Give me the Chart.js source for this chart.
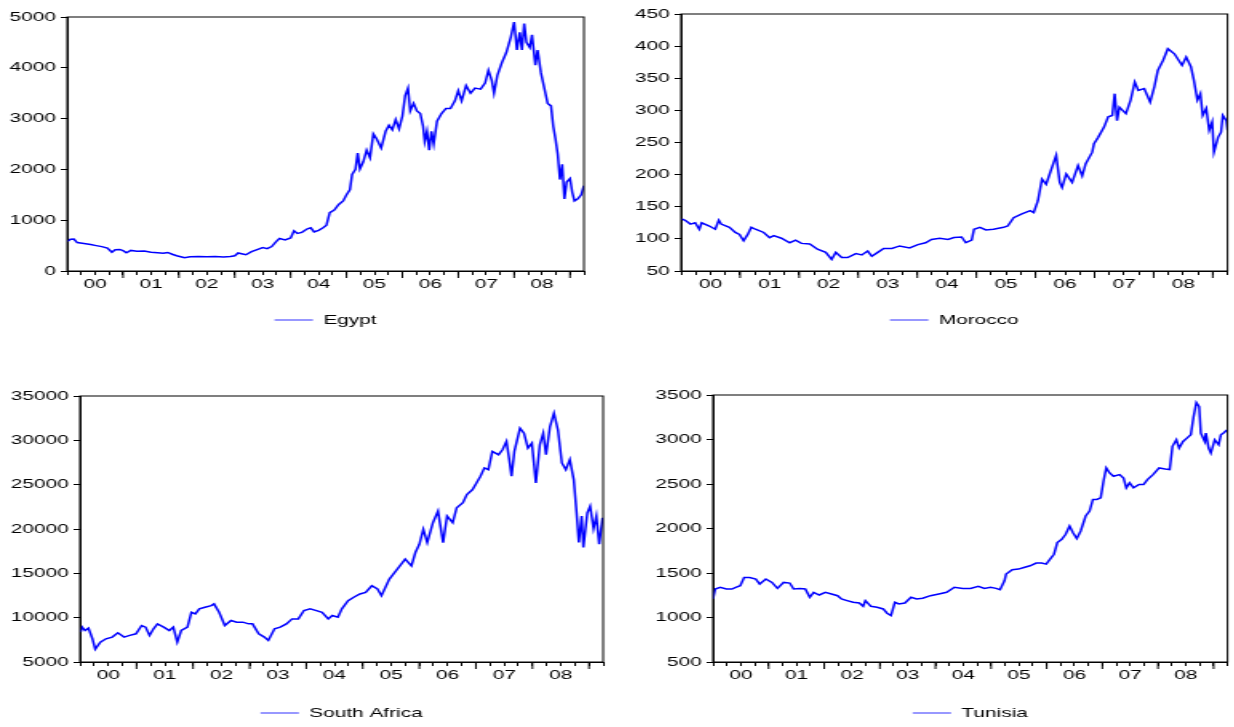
<!DOCTYPE html>
<html lang="en">
<head>
    <meta charset="utf-8">
    <title>Stock indices</title>
    <script src="https://cdn.jsdelivr.net/npm/chart.js"></script>
    <style>
        body { margin: 0; background: #fff; width: 1234px; height: 727px; overflow: hidden; position: relative; }
        .panel { position: absolute; }
        /* the original graph is stretched sideways, so each chart is drawn narrow and widened */
        .inner { position: relative; transform: scaleX(1.6); transform-origin: 0 0; }
    </style>
</head>
<body>
<div class="panel" style="left:0;top:0"><div class="inner" style="width:375px;height:340px"><canvas id="egypt"></canvas></div></div>
<div class="panel" style="left:617px;top:0"><div class="inner" style="width:385px;height:340px"><canvas id="morocco"></canvas></div></div>
<div class="panel" style="left:0;top:360px"><div class="inner" style="width:385px;height:370px"><canvas id="safrica"></canvas></div></div>
<div class="panel" style="left:617px;top:360px"><div class="inner" style="width:385px;height:370px"><canvas id="tunisia"></canvas></div></div>

<script>
    // [decimal year, index level]
    var egypt = [
        [2000.00, 580], [2000.06, 625], [2000.12, 630], [2000.18, 560], [2000.30, 540], [2000.42, 520],
        [2000.52, 500], [2000.62, 480], [2000.72, 450], [2000.80, 370], [2000.86, 420], [2000.94, 425],
        [2001.00, 400], [2001.06, 360], [2001.14, 405], [2001.25, 390], [2001.38, 395], [2001.50, 370],
        [2001.62, 360], [2001.72, 350], [2001.80, 365], [2001.88, 330], [2001.96, 300], [2002.05, 275],
        [2002.10, 260], [2002.20, 280], [2002.35, 285], [2002.50, 280], [2002.65, 285], [2002.80, 275],
        [2002.92, 285], [2003.00, 300], [2003.06, 355], [2003.14, 335], [2003.20, 320], [2003.30, 380],
        [2003.40, 420], [2003.50, 460], [2003.58, 440], [2003.66, 480], [2003.74, 580], [2003.80, 640],
        [2003.90, 610], [2004.00, 650], [2004.06, 790], [2004.12, 740], [2004.20, 760], [2004.30, 830],
        [2004.36, 850], [2004.42, 770], [2004.50, 800], [2004.58, 850], [2004.64, 900], [2004.70, 1150],
        [2004.78, 1200], [2004.86, 1310], [2004.94, 1380], [2005.00, 1500], [2005.06, 1600], [2005.10, 1900],
        [2005.16, 2000], [2005.20, 2320], [2005.24, 2010], [2005.30, 2150], [2005.36, 2380], [2005.42, 2230],
        [2005.48, 2700], [2005.54, 2600], [2005.62, 2420], [2005.70, 2750], [2005.76, 2870], [2005.82, 2780],
        [2005.88, 2980], [2005.94, 2800], [2006.00, 3050], [2006.05, 3450], [2006.10, 3600], [2006.14, 3150],
        [2006.20, 3300], [2006.26, 3150], [2006.32, 3100], [2006.37, 2850], [2006.40, 2550], [2006.44, 2750],
        [2006.48, 2380], [2006.52, 2750], [2006.56, 2500], [2006.62, 2950], [2006.70, 3100], [2006.78, 3200],
        [2006.86, 3200], [2006.94, 3350], [2007.00, 3550], [2007.06, 3350], [2007.14, 3650], [2007.22, 3500],
        [2007.30, 3600], [2007.40, 3580], [2007.48, 3700], [2007.54, 3950], [2007.60, 3750], [2007.64, 3500],
        [2007.70, 3850], [2007.78, 4100], [2007.86, 4300], [2007.94, 4600], [2008.00, 4900], [2008.05, 4350],
        [2008.10, 4700], [2008.14, 4350], [2008.18, 4870], [2008.22, 4500], [2008.28, 4400], [2008.32, 4650],
        [2008.38, 4050], [2008.42, 4350], [2008.48, 3900], [2008.54, 3600], [2008.60, 3300], [2008.66, 3250],
        [2008.70, 2850], [2008.74, 2600], [2008.78, 2300], [2008.82, 1800], [2008.86, 2100], [2008.90, 1420],
        [2008.94, 1750], [2009.00, 1820], [2009.04, 1550], [2009.08, 1380], [2009.14, 1420], [2009.20, 1500],
        [2009.25, 1680]
    ];

    var morocco = [
        [2000.01, 131], [2000.07, 129], [2000.16, 123], [2000.24, 125], [2000.31, 115], [2000.35, 125],
        [2000.48, 120], [2000.58, 115], [2000.64, 129], [2000.68, 123], [2000.82, 118], [2000.92, 110],
        [2000.99, 107], [2001.06, 97], [2001.13, 107], [2001.19, 118], [2001.26, 115], [2001.40, 110],
        [2001.50, 102], [2001.57, 105], [2001.70, 101], [2001.84, 94], [2001.94, 98], [2002.04, 93],
        [2002.18, 92], [2002.31, 84], [2002.45, 79], [2002.55, 68], [2002.62, 79], [2002.72, 71],
        [2002.82, 71], [2002.96, 77], [2003.06, 75], [2003.16, 81], [2003.23, 73], [2003.33, 79],
        [2003.43, 85], [2003.57, 85], [2003.70, 89], [2003.87, 86], [2004.01, 91], [2004.14, 94],
        [2004.24, 99], [2004.38, 101], [2004.52, 99], [2004.62, 102], [2004.75, 103], [2004.82, 94],
        [2004.92, 98], [2004.96, 115], [2005.06, 118], [2005.16, 114], [2005.29, 115], [2005.46, 118],
        [2005.53, 120], [2005.63, 133], [2005.77, 139], [2005.91, 144], [2005.97, 141], [2006.04, 159],
        [2006.11, 193], [2006.18, 185], [2006.24, 201], [2006.35, 230], [2006.41, 188], [2006.45, 180],
        [2006.52, 201], [2006.62, 188], [2006.72, 214], [2006.79, 198], [2006.85, 217], [2006.96, 235],
        [2006.99, 248], [2007.06, 258], [2007.16, 274], [2007.23, 290], [2007.30, 292], [2007.34, 326],
        [2007.38, 284], [2007.42, 305], [2007.53, 295], [2007.61, 316], [2007.68, 344], [2007.74, 331],
        [2007.84, 334], [2007.94, 313], [2008.01, 336], [2008.07, 362], [2008.16, 378], [2008.24, 396],
        [2008.35, 388], [2008.48, 370], [2008.55, 383], [2008.63, 368], [2008.68, 347], [2008.74, 316],
        [2008.79, 326], [2008.83, 292], [2008.89, 303], [2008.94, 269], [2008.99, 282], [2009.02, 235],
        [2009.09, 258], [2009.14, 266], [2009.17, 292], [2009.23, 284], [2009.25, 269]
    ];

    var southAfrica = [
        [2000.01, 8370], [2000.04, 8930], [2000.09, 8550], [2000.15, 8820], [2000.22, 7620], [2000.27, 6450],
        [2000.36, 7240], [2000.46, 7620], [2000.57, 7810], [2000.67, 8290], [2000.78, 7810], [2000.88, 8000],
        [2000.99, 8180], [2001.09, 9110], [2001.16, 8930], [2001.23, 8000], [2001.30, 8740], [2001.37, 9300],
        [2001.48, 8930], [2001.58, 8550], [2001.65, 8930], [2001.72, 7240], [2001.79, 8550], [2001.90, 8930],
        [2001.97, 10610], [2002.04, 10420], [2002.11, 10990], [2002.21, 11170], [2002.32, 11360], [2002.37, 11550],
        [2002.46, 10610], [2002.56, 9110], [2002.67, 9680], [2002.77, 9490], [2002.88, 9490], [2002.98, 9300],
        [2003.05, 9300], [2003.16, 8180], [2003.26, 7810], [2003.33, 7430], [2003.44, 8740], [2003.54, 8930],
        [2003.65, 9300], [2003.75, 9860], [2003.86, 9860], [2003.96, 10800], [2004.07, 10990], [2004.18, 10800],
        [2004.28, 10610], [2004.39, 9860], [2004.46, 10240], [2004.56, 10050], [2004.63, 10990], [2004.74, 11920],
        [2004.84, 12300], [2004.95, 12670], [2005.05, 12860], [2005.16, 13600], [2005.26, 13230], [2005.33, 12480],
        [2005.47, 14350], [2005.61, 15470], [2005.75, 16600], [2005.86, 15850], [2005.93, 17350], [2006.00, 18280],
        [2006.07, 19960], [2006.14, 18470], [2006.24, 20710], [2006.33, 22020], [2006.42, 18470], [2006.49, 21460],
        [2006.59, 20710], [2006.66, 22400], [2006.77, 22960], [2006.84, 23890], [2006.94, 24450], [2007.01, 25200],
        [2007.08, 25950], [2007.15, 26890], [2007.22, 26700], [2007.29, 28750], [2007.40, 28380], [2007.47, 28940],
        [2007.54, 29880], [2007.59, 27820], [2007.63, 25950], [2007.68, 28750], [2007.78, 31370], [2007.85, 30810],
        [2007.92, 29130], [2007.99, 29690], [2008.06, 25200], [2008.13, 29500], [2008.19, 30810], [2008.24, 28380],
        [2008.31, 31560], [2008.38, 33060], [2008.45, 31190], [2008.52, 27450], [2008.59, 26700], [2008.66, 27820],
        [2008.73, 25570], [2008.78, 21830], [2008.82, 18470], [2008.87, 21460], [2008.90, 17910], [2008.97, 21830],
        [2009.02, 22580], [2009.08, 20040], [2009.13, 21460], [2009.18, 18280], [2009.24, 21270]
    ];

    var tunisia = [
        [2000.00, 1208], [2000.04, 1320], [2000.13, 1339], [2000.24, 1320], [2000.34, 1320], [2000.41, 1339],
        [2000.49, 1357], [2000.56, 1450], [2000.66, 1450], [2000.77, 1432], [2000.84, 1376], [2000.95, 1432],
        [2001.06, 1394], [2001.16, 1327], [2001.27, 1394], [2001.38, 1387], [2001.45, 1320], [2001.56, 1327],
        [2001.66, 1320], [2001.74, 1227], [2001.81, 1283], [2001.91, 1253], [2002.02, 1283], [2002.13, 1264],
        [2002.24, 1245], [2002.31, 1208], [2002.41, 1190], [2002.52, 1171], [2002.63, 1163], [2002.70, 1126],
        [2002.74, 1190], [2002.84, 1126], [2002.95, 1115], [2003.06, 1096], [2003.13, 1048], [2003.20, 1022],
        [2003.27, 1171], [2003.34, 1152], [2003.45, 1163], [2003.56, 1227], [2003.66, 1208], [2003.77, 1216],
        [2003.91, 1245], [2004.06, 1264], [2004.20, 1283], [2004.34, 1339], [2004.49, 1327], [2004.63, 1327],
        [2004.77, 1350], [2004.88, 1327], [2004.99, 1339], [2005.09, 1327], [2005.16, 1312], [2005.24, 1413],
        [2005.27, 1488], [2005.38, 1536], [2005.49, 1544], [2005.59, 1562], [2005.70, 1581], [2005.81, 1611],
        [2005.91, 1611], [2005.99, 1600], [2006.06, 1655], [2006.13, 1711], [2006.19, 1842], [2006.27, 1879],
        [2006.34, 1935], [2006.41, 2028], [2006.47, 1954], [2006.54, 1886], [2006.61, 1972], [2006.70, 2140],
        [2006.77, 2196], [2006.83, 2326], [2006.90, 2326], [2006.97, 2345], [2007.02, 2531], [2007.07, 2680],
        [2007.13, 2624], [2007.20, 2587], [2007.31, 2606], [2007.38, 2568], [2007.43, 2457], [2007.49, 2513],
        [2007.56, 2457], [2007.66, 2494], [2007.74, 2494], [2007.81, 2550], [2007.91, 2606], [2008.02, 2680],
        [2008.13, 2669], [2008.21, 2662], [2008.26, 2923], [2008.33, 2997], [2008.38, 2904], [2008.45, 2978],
        [2008.52, 3016], [2008.59, 3053], [2008.64, 3258], [2008.69, 3415], [2008.74, 3370], [2008.77, 3072],
        [2008.84, 2978], [2008.86, 3072], [2008.91, 2904], [2008.95, 2848], [2009.02, 2997], [2009.09, 2941],
        [2009.13, 3053], [2009.19, 3079], [2009.24, 3109]
    ];

    var firstYear = 2000;
    var lastDate = 2009.25;

    Chart.defaults.font.family = '"Liberation Sans", Arial, sans-serif';
    Chart.defaults.font.size = 13;
    Chart.defaults.color = '#000';

    // box round the plot plus the longer year ticks
    var framePlugin = {
        id: 'frame',
        afterDraw: function (chart) {
            var a = chart.chartArea;
            var ctx = chart.ctx;
            var xs = chart.scales.x;
            ctx.save();
            ctx.strokeStyle = '#000';
            ctx.lineWidth = 1;
            ctx.strokeRect(a.left, a.top, a.right - a.left, a.bottom - a.top);
            for (var y = firstYear + 1; y <= lastDate; y++) {
                var px = xs.getPixelForValue(y);
                ctx.beginPath();
                ctx.moveTo(px, a.bottom);
                ctx.lineTo(px, a.bottom + 7);
                ctx.stroke();
            }
            ctx.restore();
        }
    };

    function makeChart(id, name, rows, yMin, yMax, yStep, box) {
        var ctx = document.getElementById(id).getContext('2d');
        return new Chart(ctx, {
            type: 'line',
            data: {
                datasets: [{
                    label: name,
                    data: rows.map(function (r) { return {x: r[0], y: r[1]}; }),
                    borderColor: '#0000ff',
                    backgroundColor: '#0000ff',
                    borderWidth: 1.5,
                    pointRadius: 0,
                    tension: 0,
                    fill: false
                }]
            },
            options: {
                responsive: true,
                maintainAspectRatio: false,
                animation: false,
                events: [],
                layout: {padding: {left: 0, right: box.pr, top: box.pt, bottom: box.pb}},
                scales: {
                    x: {
                        type: 'linear',
                        min: firstYear,
                        max: lastDate,
                        afterBuildTicks: function (scale) {
                            var t = [];
                            for (var k = 0; firstYear + k / 4 <= lastDate + 1e-9; k++) {
                                t.push({value: firstYear + k / 4});
                            }
                            scale.ticks = t;
                        },
                        afterFit: function (scale) { scale.height = box.xh; },
                        grid: {drawOnChartArea: false, tickLength: 4, color: '#000'},
                        border: {color: '#000'},
                        ticks: {
                            autoSkip: false, maxRotation: 0, minRotation: 0, padding: 2,
                            callback: function (v) {
                                var yr = Math.floor(v + 1e-9);
                                if (Math.abs(v - yr - 0.5) > 1e-6) return '';
                                var s = String(yr - 2000);
                                return s.length < 2 ? '0' + s : s;
                            }
                        }
                    },
                    y: {
                        min: yMin,
                        max: yMax,
                        afterFit: function (scale) { scale.width = box.yw; },
                        grid: {drawOnChartArea: false, tickLength: 4, color: '#000'},
                        border: {color: '#000'},
                        ticks: {
                            stepSize: yStep, padding: 3,
                            callback: function (v) { return String(v); }
                        }
                    }
                },
                plugins: {
                    tooltip: {enabled: false},
                    legend: {
                        position: 'bottom',
                        fullSize: false,
                        labels: {
                            boxWidth: 24,
                            boxHeight: 1,
                            padding: 10,
                            color: '#000',
                            generateLabels: function (chart) {
                                var items = Chart.defaults.plugins.legend.labels.generateLabels(chart);
                                items.forEach(function (it) {
                                    it.lineWidth = 0;
                                    it.fillStyle = '#3333ff';
                                });
                                return items;
                            }
                        }
                    }
                }
            },
            plugins: [framePlugin]
        });
    }

    makeChart('egypt', 'Egypt', egypt, 0, 5000, 1000, {yw: 42, pr: 10, pt: 17, pb: 3.5, xh: 32.5});
    makeChart('morocco', 'Morocco', morocco, 50, 450, 50, {yw: 40, pr: 3.4, pt: 14, pb: 3.5, xh: 32.5});
    makeChart('safrica', 'South Africa', southAfrica, 5000, 35000, 5000, {yw: 50, pr: 8, pt: 36, pb: 0.5, xh: 34.5});
    makeChart('tunisia', 'Tunisia', tunisia, 500, 3500, 500, {yw: 60, pr: 3.4, pt: 35, pb: 0.5, xh: 34.5});
</script>
</body>
</html>
